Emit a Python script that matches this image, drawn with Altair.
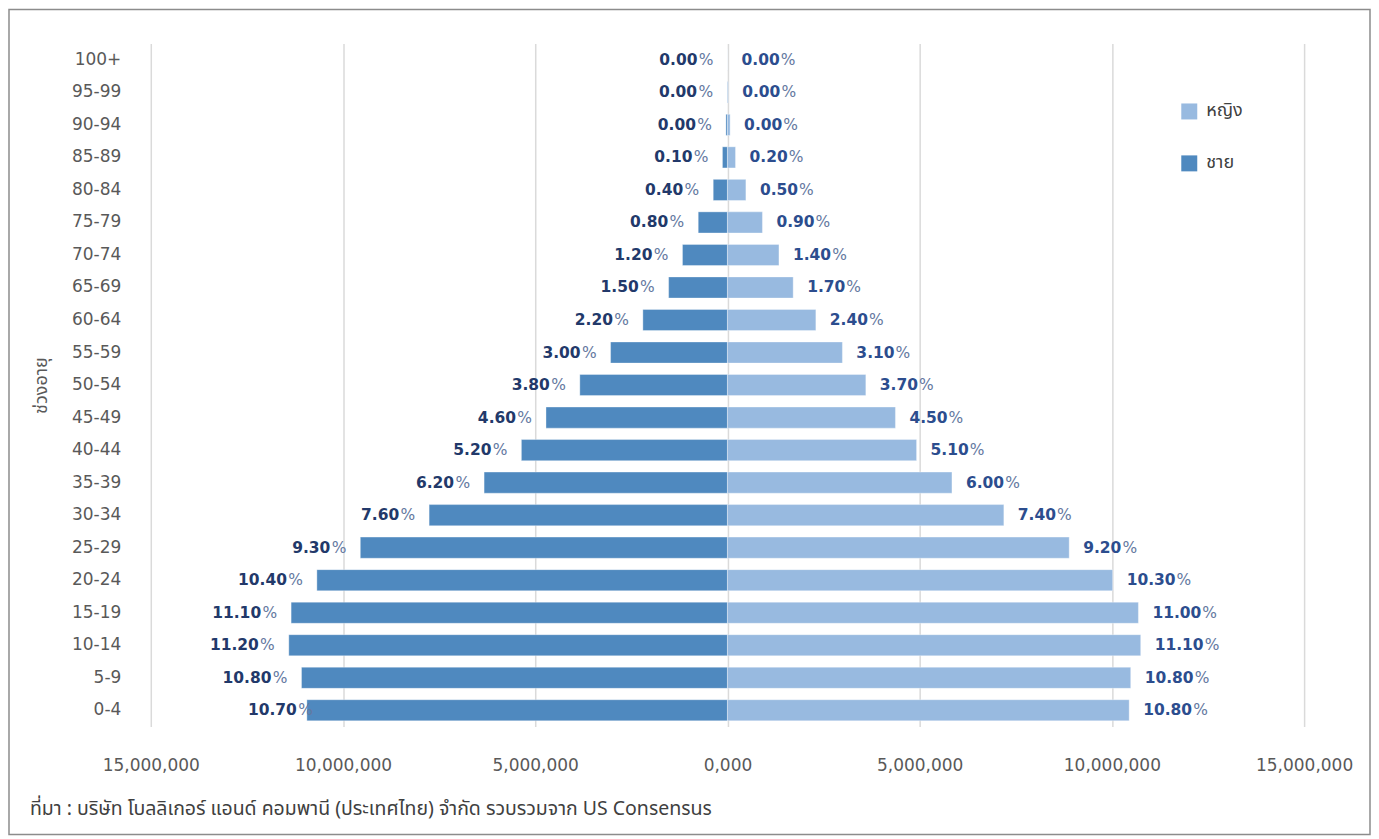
import altair as alt
import pandas as pd

ages = ["0-4", "5-9", "10-14", "15-19", "20-24", "25-29", "30-34", "35-39",
        "40-44", "45-49", "50-54", "55-59", "60-64", "65-69", "70-74",
        "75-79", "80-84", "85-89", "90-94", "95-99", "100+"]
male_pop = [10940000, 11080000, 11410000, 11350000, 10680000, 9550000, 7760000,
            6330000, 5360000, 4720000, 3840000, 3040000, 2200000, 1530000,
            1170000, 760000, 370000, 130000, 40000, 10000, 2000]
female_pop = [10450000, 10490000, 10750000, 10690000, 10020000, 8890000, 7190000,
              5840000, 4920000, 4370000, 3600000, 2990000, 2300000, 1710000,
              1340000, 910000, 480000, 210000, 70000, 20000, 3000]
male_pct = ["10.70", "10.80", "11.20", "11.10", "10.40", "9.30", "7.60", "6.20",
            "5.20", "4.60", "3.80", "3.00", "2.20", "1.50", "1.20", "0.80",
            "0.40", "0.10", "0.00", "0.00", "0.00"]
female_pct = ["10.80", "10.80", "11.10", "11.00", "10.30", "9.20", "7.40", "6.00",
              "5.10", "4.50", "3.70", "3.10", "2.40", "1.70", "1.40", "0.90",
              "0.50", "0.20", "0.00", "0.00", "0.00"]
sexes = ["หญิง", "ชาย"]
x_ticks = [-15000000, -10000000, -5000000, 0, 5000000, 10000000, 15000000]
y_title = "ช่วงอายุ"
source = "ที่มา : บริษัท โบลลิเกอร์ แอนด์ คอมพานี (ประเทศไทย) จำกัด รวบรวมจาก US Consensus"

rows = []
for a, mp, fp, mpc, fpc in zip(ages, male_pop, female_pop, male_pct, female_pct):
    rows.append({"age": a, "sex": "ชาย", "value": -mp, "pct": mpc})
    rows.append({"age": a, "sex": "หญิง", "value": fp, "pct": fpc})
df = pd.DataFrame(rows)

MALE = "#4f89bf"
FEMALE = "#98bae0"
AXFONT = "DejaVu Sans"
THAI = "Noto Sans Thai, Noto Sans, Loma, Garuda, Tlwg Typo, sans-serif"
NUMFONT = "DejaVu Sans"
NS = 15.5

x_enc = alt.X("value:Q",
              scale=alt.Scale(domain=[-15000000, 15000000], nice=False),
              axis=alt.Axis(values=x_ticks, title=None, ticks=False, domain=False,
                            grid=True, gridColor="#dadada", gridWidth=1.5,
                            labelExpr="datum.value == 0 ? '0,000' : format(abs(datum.value), ',')",
                            labelFont=AXFONT, labelFontSize=17, labelColor="#595959",
                            labelPadding=31, labelFlush=False, labelOverlap=False))
y_sort = list(reversed(ages))
y_enc = alt.Y("age:N", sort=y_sort,
              scale=alt.Scale(paddingInner=0.35, paddingOuter=0.175),
              axis=alt.Axis(title=y_title, ticks=False, domain=False,
                            labelFont=AXFONT, labelFontSize=17, labelColor="#595959",
                            labelPadding=30, titleFont=THAI, titleFontSize=18,
                            titleColor="#595959", titleFontWeight="normal",
                            titleX=-109, titleY=342, titleAngle=270,
                            titleBaseline="middle", titleAlign="center"))

base = alt.Chart(df)

frame = alt.Chart(pd.DataFrame({"k": [0]})).mark_rect(
    fill="transparent", stroke="#8c8c8c", strokeWidth=1.5
).encode(x=alt.value(-142), x2=alt.value(1221), y=alt.value(-34), y2=alt.value(792))

source_text = alt.Chart(pd.DataFrame({"t": [source]})).mark_text(
    align="left", baseline="middle", font=THAI, fontSize=19.5, color="#404040"
).encode(x=alt.value(-121), y=alt.value(767), text="t:N")

bars = base.mark_bar(stroke="white", strokeOpacity=0.35, strokeWidth=1).encode(
    x=x_enc, y=y_enc,
    color=alt.Color("sex:N", scale=alt.Scale(domain=sexes, range=[FEMALE, MALE]),
                    legend=alt.Legend(title=None, orient="none", legendX=1031, legendY=59,
                                      symbolType="square", symbolSize=256,
                                      symbolStrokeWidth=0, labelFont=THAI,
                                      labelFontSize=18, labelColor="#404040",
                                      rowPadding=34, labelOffset=8, padding=0)))

is_m = alt.datum.sex == "ชาย"
is_f = alt.datum.sex == "หญิง"
not04 = alt.datum.age != "0-4"
is04 = alt.datum.age == "0-4"
MNUM = "#22396a"
FNUM = "#2c4d8e"
PCT = "#6478a0"
DIG = 0.696 * NS
PER = 0.38 * NS


def num_layer(flt, dx, align, color):
    return base.transform_filter(flt).mark_text(
        align=align, baseline="middle", dx=dx, font=NUMFONT, fontSize=NS,
        fontWeight="bold", color=color
    ).encode(x="value:Q", y=alt.Y("age:N", sort=y_sort), text="pct:N")


def pct_layer(flt, dx, align):
    return base.transform_filter(flt).mark_text(
        align=align, baseline="middle", dx=dx, font=NUMFONT, fontSize=NS,
        color=PCT
    ).encode(x="value:Q", y=alt.Y("age:N", sort=y_sort), text=alt.value("%"))


short = alt.expr.length(alt.datum.pct) == 4
long_ = alt.expr.length(alt.datum.pct) == 5

layers = [
    frame, bars,
    num_layer(is_m & not04, -30, "right", MNUM),
    pct_layer(is_m & not04, -14, "right"),
    num_layer(is_m & is04, -10, "right", MNUM),
    pct_layer(is_m & is04, 6, "right"),
    num_layer(is_f, 14, "left", FNUM),
    pct_layer(is_f & short, 14 + 3 * DIG + PER + 1, "left"),
    pct_layer(is_f & long_, 14 + 4 * DIG + PER + 1, "left"),
    source_text,
]

chart = alt.layer(*layers).properties(
    width=1155, height=684,
    padding={"left": 143, "top": 35, "right": 67, "bottom": 109},
    autosize=alt.AutoSizeParams(type="none"),
    background="white",
).configure_view(strokeWidth=0)

chart.save("out.html", embed_options={"renderer": "svg", "actions": False})
